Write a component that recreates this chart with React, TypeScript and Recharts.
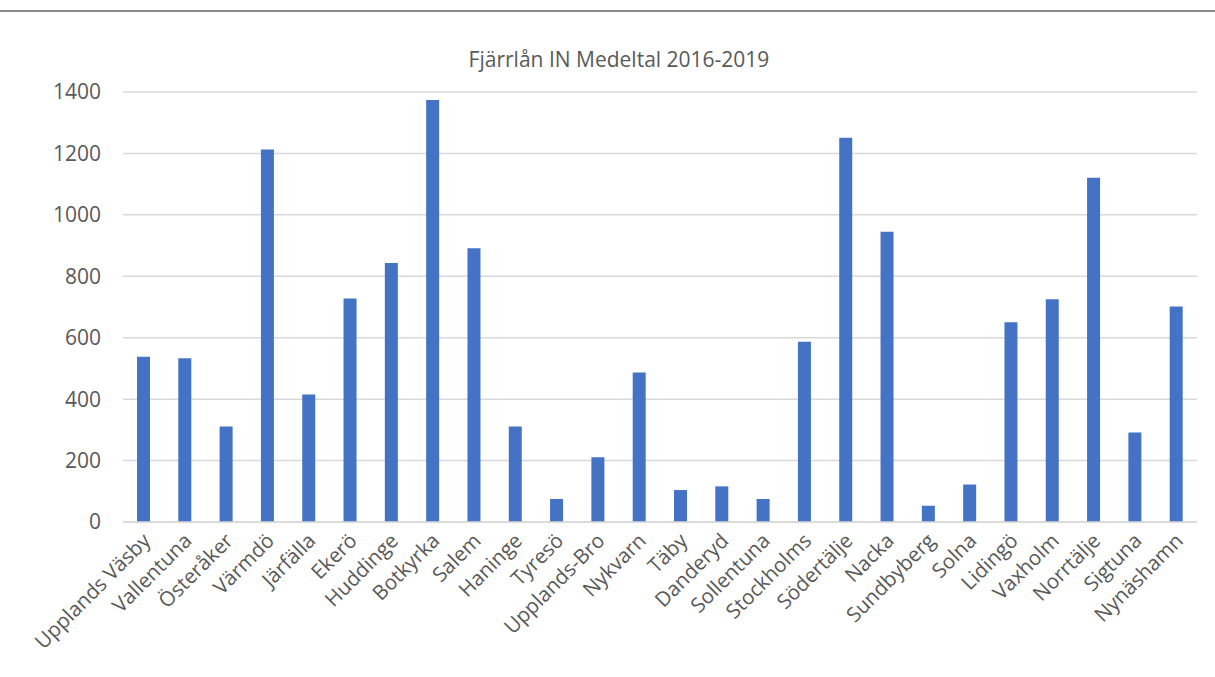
import { Bar, BarChart, CartesianGrid, XAxis, YAxis } from "recharts"

const kommuner = [
  "Upplands Väsby",
  "Vallentuna",
  "Österåker",
  "Värmdö",
  "Järfälla",
  "Ekerö",
  "Huddinge",
  "Botkyrka",
  "Salem",
  "Haninge",
  "Tyresö",
  "Upplands-Bro",
  "Nykvarn",
  "Täby",
  "Danderyd",
  "Sollentuna",
  "Stockholms",
  "Södertälje",
  "Nacka",
  "Sundbyberg",
  "Solna",
  "Lidingö",
  "Vaxholm",
  "Norrtälje",
  "Sigtuna",
  "Nynäshamn",
]

const medeltal = [
  538, 533, 311, 1213, 415, 728, 843, 1374, 891, 311, 75, 211, 487, 104, 116,
  75, 587, 1251, 945, 53, 122, 650, 725, 1121, 291, 702,
]

const yTicks = [0, 200, 400, 600, 800, 1000, 1200, 1400]

const title = "Fjärrlån IN Medeltal 2016-2019"

const data = kommuner.map((namn, i) => ({ namn, varde: medeltal[i] }))

const textColor = "#595959"
const font = "'Open Sans', sans-serif"

function KommunTick({ x, y, payload }: any) {
  return (
    <g transform={`translate(${x + 8},${y + 20})`}>
      <text
        transform="rotate(-45)"
        textAnchor="end"
        fill={textColor}
        fontSize={20.5}
        fontFamily={font}
      >
        {payload.value}
      </text>
    </g>
  )
}

export default function App() {
  return (
    <div
      style={{
        position: "absolute",
        top: 0,
        left: 0,
        width: 1215,
        height: 677,
        background: "#fff",
      }}
    >
      <div
        style={{
          position: "absolute",
          top: 10,
          left: 0,
          width: 1215,
          height: 2,
          background: "#8c8c8c",
        }}
      />
      <div
        style={{
          position: "absolute",
          top: 45,
          left: 0,
          width: 1238,
          textAlign: "center",
          fontFamily: font,
          fontSize: 21,
          color: textColor,
        }}
      >
        {title}
      </div>
      <BarChart
        width={1215}
        height={677}
        data={data}
        margin={{ top: 92, right: 18, bottom: 125, left: 0 }}
      >
        <CartesianGrid vertical={false} stroke="#d9d9d9" strokeWidth={1.5} />
        <XAxis
          dataKey="namn"
          interval={0}
          height={30}
          tickLine={false}
          axisLine={{ stroke: "#d9d9d9", strokeWidth: 1.5 }}
          tick={<KommunTick />}
          tickSize={0}
          tickMargin={0}
        />
        <YAxis
          width={123}
          domain={[0, 1400]}
          ticks={yTicks}
          axisLine={false}
          tickLine={false}
          tickSize={0}
          tickMargin={22}
          tick={{ fill: textColor, fontSize: 21, fontFamily: font }}
        />
        <Bar
          dataKey="varde"
          fill="#4472C4"
          barSize={13}
          isAnimationActive={false}
        />
      </BarChart>
    </div>
  )
}
